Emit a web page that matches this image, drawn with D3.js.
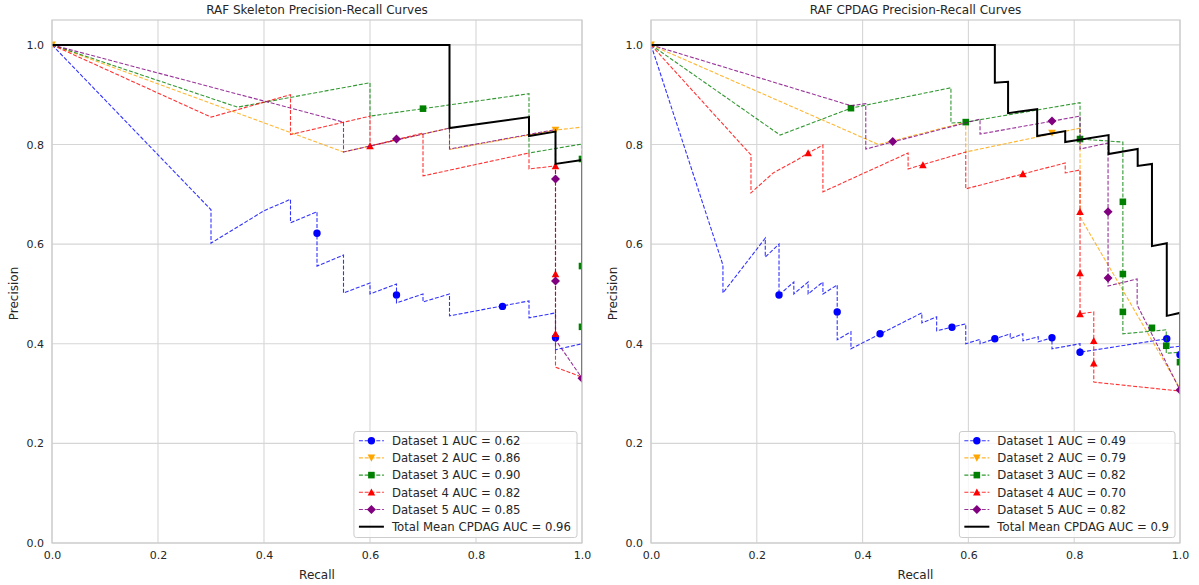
<!DOCTYPE html>
<html><head><meta charset="utf-8">
<script src="https://cdn.jsdelivr.net/npm/d3@7"></script>
<style>body{margin:0;background:#fff} text{font-family:"DejaVu Sans",sans-serif;fill:#262626}</style>
</head><body><svg id="c" width="1199" height="585"></svg>
<script>
// ---------- data (recall, precision) ----------
const tickValues = [0, 0.2, 0.4, 0.6, 0.8, 1.0];
const seriesColors = ["blue", "orange", "green", "red", "purple"];
const seriesMarkers = ["circle", "tdown", "square", "tup", "diamond"];

const skelTitle = "RAF Skeleton Precision-Recall Curves";
const skelLabels = ["Dataset 1 AUC = 0.62","Dataset 2 AUC = 0.86","Dataset 3 AUC = 0.90","Dataset 4 AUC = 0.82","Dataset 5 AUC = 0.85","Total Mean CPDAG AUC = 0.96"];
const skelD1 = [[0,1],[0.30,0.669],[0.30,0.602],[0.40,0.667],[0.45,0.69],[0.45,0.643],[0.50,0.665],[0.50,0.556],[0.55,0.578],[0.55,0.502],[0.60,0.522],[0.60,0.50],[0.65,0.52],[0.65,0.482],[0.70,0.50],[0.70,0.484],[0.75,0.50],[0.75,0.456],[0.90,0.486],[0.90,0.452],[0.95,0.462],[0.95,0.388],[1.0,0.40]];
const skelD1Marks = [[0.50,0.622],[0.65,0.498],[0.85,0.475],[0.95,0.412]];
const skelD2 = [[0,1],[0.55,0.785],[0.75,0.833],[0.75,0.79],[0.95,0.829],[1.0,0.835]];
const skelD2Marks = [[0,1],[0.95,0.829]];
const skelD3 = [[0,1],[0.35,0.875],[0.60,0.924],[0.60,0.857],[0.90,0.902],[0.90,0.783],[1.0,0.801],[1.0,0.434]];
const skelD3Marks = [[0.70,0.872],[1.0,0.771],[1.0,0.556],[1.0,0.434]];
const skelD4 = [[0,1],[0.30,0.855],[0.45,0.90],[0.45,0.82],[0.60,0.857],[0.60,0.797],[0.70,0.823],[0.70,0.737],[0.90,0.783],[0.90,0.751],[0.95,0.757],[0.95,0.353],[1.0,0.333]];
const skelD4Marks = [[0.60,0.797],[0.95,0.757],[0.95,0.54],[0.95,0.42]];
const skelD5 = [[0,1],[0.55,0.845],[0.55,0.785],[0.75,0.833],[0.75,0.791],[0.95,0.83],[0.95,0.408],[1.0,0.331]];
const skelD5Marks = [[0.65,0.811],[0.95,0.731],[0.95,0.526],[1.0,0.331]];
const skelMean = [[0,1],[0.75,1],[0.75,0.833],[0.90,0.855],[0.90,0.817],[0.95,0.826],[0.95,0.761],[1.0,0.769],[1.0,0.333]];

const cpdagTitle = "RAF CPDAG Precision-Recall Curves";
const cpdagLabels = ["Dataset 1 AUC = 0.49","Dataset 2 AUC = 0.79","Dataset 3 AUC = 0.82","Dataset 4 AUC = 0.70","Dataset 5 AUC = 0.82","Total Mean CPDAG AUC = 0.9"];
const cpdagD1 = [[0,1],[0.136,0.558],[0.136,0.502],[0.216,0.612],[0.216,0.574],[0.242,0.600],[0.242,0.498],[0.27,0.524],[0.27,0.50],[0.297,0.524],[0.297,0.50],[0.325,0.524],[0.325,0.50],[0.352,0.518],[0.352,0.408],[0.378,0.424],[0.378,0.39],[0.512,0.462],[0.512,0.442],[0.54,0.454],[0.54,0.426],[0.595,0.44],[0.595,0.40],[0.622,0.409],[0.622,0.40],[0.679,0.42],[0.679,0.41],[0.703,0.42],[0.703,0.406],[0.732,0.414],[0.732,0.404],[0.758,0.412],[0.758,0.39],[0.811,0.40],[0.811,0.383],[0.975,0.41],[0.975,0.392],[1.0,0.395],[1.0,0.378]];
const cpdagD1Marks = [[0.242,0.498],[0.352,0.464],[0.433,0.42],[0.569,0.433],[0.65,0.41],[0.758,0.412],[0.811,0.383],[0.975,0.41],[1.0,0.378]];
const cpdagD2 = [[0,1],[0.43,0.80],[0.595,0.845],[0.595,0.785],[0.811,0.833],[0.811,0.655],[1.0,0.31]];
const cpdagD2Marks = [[0,1],[0.758,0.823]];
const cpdagD3 = [[0,1],[0.244,0.819],[0.378,0.873],[0.567,0.914],[0.567,0.843],[0.595,0.845],[0.811,0.884],[0.811,0.811],[0.892,0.805],[0.892,0.42],[0.974,0.428],[0.974,0.381],[1.0,0.383],[1.0,0.36]];
const cpdagD3Marks = [[0.378,0.873],[0.595,0.845],[0.811,0.811],[0.892,0.685],[0.892,0.54],[0.892,0.464],[0.947,0.432],[0.974,0.396],[1.0,0.363]];
const cpdagD4 = [[0,1],[0.189,0.779],[0.189,0.703],[0.231,0.743],[0.276,0.769],[0.297,0.783],[0.325,0.799],[0.325,0.705],[0.486,0.783],[0.486,0.751],[0.595,0.785],[0.595,0.711],[0.783,0.763],[0.783,0.743],[0.811,0.749],[0.811,0.46],[0.837,0.464],[0.837,0.323],[1.0,0.305]];
const cpdagD4Marks = [[0.297,0.783],[0.514,0.759],[0.703,0.741],[0.811,0.665],[0.811,0.542],[0.811,0.46],[0.837,0.406],[0.837,0.361]];
const cpdagD5 = [[0,1],[0.378,0.878],[0.406,0.882],[0.406,0.791],[0.622,0.851],[0.622,0.821],[0.811,0.857],[0.811,0.791],[0.864,0.803],[0.864,0.516],[0.919,0.530],[0.919,0.478],[1.0,0.307]];
const cpdagD5Marks = [[0.457,0.806],[0.758,0.847],[0.864,0.665],[0.864,0.532],[1.0,0.307]];
const cpdagMean = [[0,1],[0.65,1],[0.65,0.924],[0.675,0.926],[0.675,0.863],[0.73,0.871],[0.73,0.817],[0.783,0.827],[0.783,0.805],[0.865,0.819],[0.865,0.781],[0.92,0.791],[0.92,0.757],[0.947,0.761],[0.947,0.596],[0.975,0.602],[0.975,0.456],[1.0,0.462],[1.0,0.31]];

// ---------- drawing ----------
const svg = d3.select("#c");
const axTop = 20, axBottom = 543;

function markerPath(type) {
  switch (type) {
    case "circle": return d3.symbol(d3.symbolCircle, Math.PI * 3.7 * 3.7)();
    case "square": return "M-3.3,-3.3h6.6v6.6h-6.6Z";
    case "tup": return "M0,-3.8L3.8,3.3L-3.8,3.3Z";
    case "tdown": return "M0,3.8L3.8,-3.3L-3.8,-3.3Z";
    case "diamond": return "M0,-4.5L4.5,0L0,4.5L-4.5,0Z";
  }
}

const panels = [
  {title: skelTitle, left: 52, right: 582, labels: skelLabels,
   lines: [skelD1, skelD2, skelD3, skelD4, skelD5], marks: [skelD1Marks, skelD2Marks, skelD3Marks, skelD4Marks, skelD5Marks], mean: skelMean},
  {title: cpdagTitle, left: 651, right: 1180, labels: cpdagLabels,
   lines: [cpdagD1, cpdagD2, cpdagD3, cpdagD4, cpdagD5], marks: [cpdagD1Marks, cpdagD2Marks, cpdagD3Marks, cpdagD4Marks, cpdagD5Marks], mean: cpdagMean}
];

panels.forEach((P, pi) => {
  const x = d3.scaleLinear().domain([0, 1]).range([P.left, P.right]);
  const y = d3.scaleLinear().domain([0, 1.05]).range([axBottom, axTop]);
  const g = svg.append("g");
  const clipId = "clip" + pi;
  svg.append("defs").append("clipPath").attr("id", clipId)
    .append("rect").attr("x", P.left).attr("y", axTop).attr("width", P.right - P.left).attr("height", axBottom - axTop);

  // grid
  g.append("g").selectAll("line").data(tickValues).join("line")
    .attr("x1", d => x(d)).attr("x2", d => x(d)).attr("y1", axTop).attr("y2", axBottom)
    .attr("stroke", "#d6d6d6").attr("stroke-width", 1.1);
  g.append("g").selectAll("line").data(tickValues).join("line")
    .attr("y1", d => y(d)).attr("y2", d => y(d)).attr("x1", P.left).attr("x2", P.right)
    .attr("stroke", "#d6d6d6").attr("stroke-width", 1.1);

  // tick labels via axes
  const xAxis = d3.axisBottom(x).tickValues(tickValues).tickFormat(d3.format(".1f")).tickSize(0).tickPadding(8);
  const yAxis = d3.axisLeft(y).tickValues(tickValues).tickFormat(d3.format(".1f")).tickSize(0).tickPadding(8);
  const xa = g.append("g").attr("transform", `translate(0,${axBottom})`).call(xAxis);
  const ya = g.append("g").attr("transform", `translate(${P.left},0)`).call(yAxis);
  [xa, ya].forEach(a => {
    a.select(".domain").remove();
    a.selectAll("text").attr("font-size", 11).style("font-family", "DejaVu Sans").attr("fill", "#262626");
  });

  // plot content
  const plot = g.append("g").attr("clip-path", `url(#${clipId})`);
  const line = d3.line().x(d => x(d[0])).y(d => y(d[1]));
  P.lines.forEach((data, i) => {
    plot.append("path").attr("d", line(data)).attr("fill", "none")
      .attr("stroke", seriesColors[i]).attr("stroke-width", 1.1)
      .attr("stroke-dasharray", "4,1.8").attr("opacity", 0.8);
    plot.append("g").selectAll("path").data(P.marks[i]).join("path")
      .attr("d", markerPath(seriesMarkers[i]))
      .attr("transform", d => `translate(${x(d[0])},${y(d[1])})`)
      .attr("fill", seriesColors[i]);
  });
  plot.append("path").attr("d", line(P.mean)).attr("fill", "none")
    .attr("stroke", "black").attr("stroke-width", 2);

  // spines
  g.append("rect").attr("x", P.left).attr("y", axTop).attr("width", P.right - P.left).attr("height", axBottom - axTop)
    .attr("fill", "none").attr("stroke", "#cccccc").attr("stroke-width", 1.2);

  // title & axis labels
  const cx = (P.left + P.right) / 2;
  g.append("text").attr("x", cx).attr("y", 14).attr("text-anchor", "middle").attr("font-size", 12).text(P.title);
  g.append("text").attr("x", cx).attr("y", 579).attr("text-anchor", "middle").attr("font-size", 12).text("Recall");
  g.append("text").attr("transform", `translate(${P.left - 34},${(axTop + axBottom) / 2 + 12}) rotate(-90)`)
    .attr("text-anchor", "middle").attr("font-size", 12).text("Precision");

  // legend
  const lg = g.append("g");
  const rowH = 17.2, firstRow = 440.7;
  const frame = lg.append("rect");
  const items = lg.append("g");
  let maxW = 0;
  P.labels.forEach((lab, i) => {
    const yy = firstRow + i * rowH;
    const row = items.append("g").attr("transform", `translate(0,${yy})`);
    if (i < 5) {
      row.append("line").attr("x1", 0).attr("x2", 25).attr("stroke", seriesColors[i]).attr("stroke-width", 1.1)
        .attr("stroke-dasharray", "4,1.8").attr("opacity", 0.8);
      row.append("path").attr("d", markerPath(seriesMarkers[i])).attr("transform", "translate(12.5,0)").attr("fill", seriesColors[i]);
    } else {
      row.append("line").attr("x1", 0).attr("x2", 25).attr("stroke", "black").attr("stroke-width", 2);
    }
    const t = row.append("text").attr("x", 33).attr("y", 4.2).attr("font-size", 11.7).text(lab);
    maxW = Math.max(maxW, t.node().getComputedTextLength());
  });
  const boxW = 33 + maxW + 5 + 6;
  const boxRight = P.right - 5;
  const boxLeft = boxRight - boxW;
  items.attr("transform", `translate(${boxLeft + 5},0)`);
  frame.attr("x", boxLeft).attr("y", 431.5).attr("width", boxW).attr("height", 106)
    .attr("rx", 2.5).attr("fill", "white").attr("fill-opacity", 0.8).attr("stroke", "#cccccc").attr("stroke-width", 1);
});
</script>
</body></html>
